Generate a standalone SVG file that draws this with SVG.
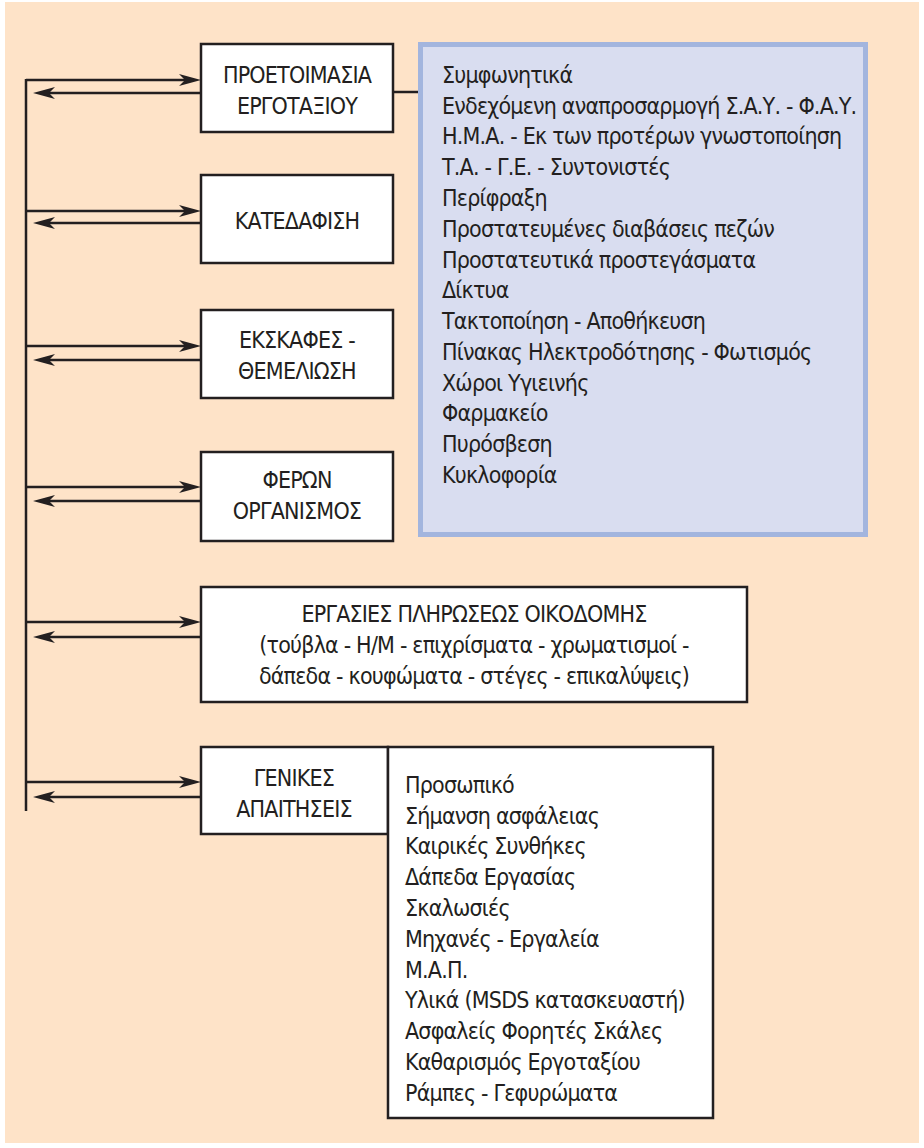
<svg xmlns="http://www.w3.org/2000/svg" width="924" height="1148" viewBox="0 0 924 1148">
<defs>
<style>
.t{font-family:"DejaVu Sans Condensed","Liberation Sans Narrow","Arial Narrow","Liberation Sans",sans-serif;font-size:23px;letter-spacing:-0.8px;fill:#231f20}
.c{text-anchor:middle}
.box{fill:#fff;stroke:#231f20;stroke-width:2.5}
.ln{stroke:#231f20;stroke-width:2.5;fill:none}
.ar{stroke:#231f20;stroke-width:2.5;fill:none;marker-end:url(#ah)}
</style>
<marker id="ah" markerUnits="userSpaceOnUse" viewBox="0 0 22 12" refX="6" refY="6" markerWidth="22" markerHeight="12" orient="auto">
<path d="M0,0 L22,6 L0,12 L6,6 z" fill="#231f20"/>
</marker>
</defs>
<rect x="5" y="2" width="914" height="1141" fill="#fee3c8"/>
<g id="connectors">
<line class="ln" x1="26" y1="79" x2="26" y2="811"/>
<line class="ar" x1="26" y1="80" x2="185" y2="80"/>
<line class="ar" x1="201" y1="93" x2="49" y2="93"/>
<line class="ar" x1="26" y1="211" x2="185" y2="211"/>
<line class="ar" x1="201" y1="223" x2="49" y2="223"/>
<line class="ar" x1="26" y1="346" x2="185" y2="346"/>
<line class="ar" x1="201" y1="360" x2="49" y2="360"/>
<line class="ar" x1="26" y1="487" x2="185" y2="487"/>
<line class="ar" x1="201" y1="501" x2="49" y2="501"/>
<line class="ar" x1="26" y1="622" x2="185" y2="622"/>
<line class="ar" x1="201" y1="637" x2="49" y2="637"/>
<line class="ar" x1="26" y1="782" x2="185" y2="782"/>
<line class="ar" x1="201" y1="797" x2="49" y2="797"/>
<line class="ln" x1="393" y1="92" x2="418" y2="92"/>
</g>
<g id="node-proetoimasia">
<rect class="box" x="201" y="44" width="192" height="88"/>
<text class="t c" x="297" y="83">ΠΡΟΕΤΟΙΜΑΣΙΑ</text>
<text class="t c" x="297" y="114">ΕΡΓΟΤΑΞΙΟΥ</text>
</g>
<g id="node-katedafisi">
<rect class="box" x="201" y="175" width="192" height="88"/>
<text class="t c" x="297" y="229">ΚΑΤΕΔΑΦΙΣΗ</text>
</g>
<g id="node-ekskafes">
<rect class="box" x="201" y="310" width="192" height="88"/>
<text class="t c" x="297" y="348">ΕΚΣΚΑΦΕΣ -</text>
<text class="t c" x="297" y="379">ΘΕΜΕΛΙΩΣΗ</text>
</g>
<g id="node-feron">
<rect class="box" x="201" y="452" width="192" height="89"/>
<text class="t c" x="297" y="488">ΦΕΡΩΝ</text>
<text class="t c" x="297" y="519">ΟΡΓΑΝΙΣΜΟΣ</text>
</g>
<g id="node-ergasies">
<rect class="box" x="201" y="587" width="546" height="115"/>
<text class="t c" x="474" y="622">ΕΡΓΑΣΙΕΣ ΠΛΗΡΩΣΕΩΣ ΟΙΚΟΔΟΜΗΣ</text>
<text class="t c" x="474" y="653">(τούβλα - Η/Μ - επιχρίσματα - χρωματισμοί -</text>
<text class="t c" x="474" y="684">δάπεδα - κουφώματα - στέγες - επικαλύψεις)</text>
</g>
<g id="node-genikes">
<rect class="box" x="201" y="747" width="187" height="87"/>
<text class="t c" x="294" y="786">ΓΕΝΙΚΕΣ</text>
<text class="t c" x="294" y="817">ΑΠΑΙΤΗΣΕΙΣ</text>
</g>
<g id="node-list-proetoimasia">
<rect x="420.5" y="44.5" width="445" height="490" fill="#d9ddf0" stroke="#a3b5de" stroke-width="5"/>
<text class="t" x="442" y="83">Συμφωνητικά</text>
<text class="t" x="442" y="114">Ενδεχόμενη αναπροσαρμογή Σ.Α.Υ. - Φ.Α.Υ.</text>
<text class="t" x="442" y="144">Η.Μ.Α. - Εκ των προτέρων γνωστοποίηση</text>
<text class="t" x="442" y="175">Τ.Α. - Γ.Ε. - Συντονιστές</text>
<text class="t" x="442" y="206">Περίφραξη</text>
<text class="t" x="442" y="237">Προστατευμένες διαβάσεις πεζών</text>
<text class="t" x="442" y="268">Προστατευτικά προστεγάσματα</text>
<text class="t" x="442" y="298">Δίκτυα</text>
<text class="t" x="442" y="329">Τακτοποίηση - Αποθήκευση</text>
<text class="t" x="442" y="360">Πίνακας Ηλεκτροδότησης - Φωτισμός</text>
<text class="t" x="442" y="391">Χώροι Υγιεινής</text>
<text class="t" x="442" y="421">Φαρμακείο</text>
<text class="t" x="442" y="452">Πυρόσβεση</text>
<text class="t" x="442" y="483">Κυκλοφορία</text>
</g>
<g id="node-list-genikes">
<rect class="box" x="388" y="747" width="325" height="371"/>
<text class="t" x="405" y="793">Προσωπικό</text>
<text class="t" x="405" y="824">Σήμανση ασφάλειας</text>
<text class="t" x="405" y="854">Καιρικές Συνθήκες</text>
<text class="t" x="405" y="885">Δάπεδα Εργασίας</text>
<text class="t" x="405" y="916">Σκαλωσιές</text>
<text class="t" x="405" y="947">Μηχανές - Εργαλεία</text>
<text class="t" x="405" y="978">Μ.Α.Π.</text>
<text class="t" x="405" y="1008">Υλικά (MSDS κατασκευαστή)</text>
<text class="t" x="405" y="1039">Ασφαλείς Φορητές Σκάλες</text>
<text class="t" x="405" y="1070">Καθαρισμός Εργοταξίου</text>
<text class="t" x="405" y="1101">Ράμπες - Γεφυρώματα</text>
</g>
</svg>
